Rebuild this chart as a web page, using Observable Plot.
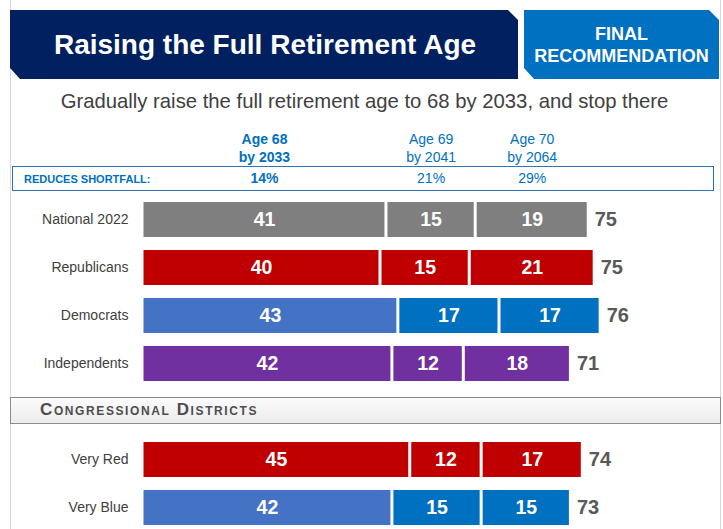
<!DOCTYPE html>
<html><head><meta charset="utf-8">
<script src="https://cdn.jsdelivr.net/npm/d3@7"></script>
<script src="https://cdn.jsdelivr.net/npm/@observablehq/plot@0.6"></script>
<style>
body{margin:0;background:#fff;font-family:"Liberation Sans",Arial,sans-serif;}
#wrap{position:relative;width:723px;height:529px;overflow:hidden;background:#fff;}
.abs{position:absolute;}
#frame{left:10px;top:0;width:709px;height:529px;border-left:1px solid #d9d9d9;border-right:1px solid #d9d9d9;}
#navy{left:10px;top:10px;width:508px;height:69px;background:#002060;clip-path:polygon(0 0,calc(100% - 10px) 0,100% 10px,100% 100%,10px 100%,0 calc(100% - 11px));color:#fff;font-weight:bold;font-size:28px;display:flex;align-items:center;justify-content:center;padding-left:2px;box-sizing:border-box;}
#final{left:524px;top:10px;width:195px;height:69px;background:#0070c0;clip-path:polygon(0 0,calc(100% - 10px) 0,100% 10px,100% 100%,10px 100%,0 calc(100% - 11px));color:#fff;font-weight:bold;font-size:18px;line-height:22px;display:flex;align-items:center;justify-content:center;text-align:center;}
#sub{left:0;top:90px;width:729px;text-align:center;font-size:20.3px;color:#404040;}
#short{left:12px;top:166px;width:700px;height:23px;border:1px solid #2e75b6;}
#shortlab{left:24px;top:173px;font-size:11px;font-weight:bold;color:#0070c0;}
#cong{left:10px;top:397px;width:709px;height:25px;border:1px solid #8c8c8c;background:linear-gradient(#fbfbfb,#ececec);}
#conglab{left:40px;top:400px;font-size:17px;font-weight:bold;font-variant:small-caps;color:#4d4d4d;letter-spacing:1.6px;}
#chart{left:0;top:120px;}
</style></head>
<body>
<div id="wrap">
  <div id="frame" class="abs"></div>
  <div id="navy" class="abs"></div>
  <div id="final" class="abs"></div>
  <div id="sub" class="abs"></div>
  <div id="short" class="abs"></div>
  <div id="shortlab" class="abs"></div>
  <div id="cong" class="abs"></div>
  <div id="conglab" class="abs"></div>
  <div id="chart" class="abs"></div>
</div>
<script>
const title = "Raising the Full Retirement Age";
const badge = ["FINAL", "RECOMMENDATION"];
const subtitle = "Gradually raise the full retirement age to 68 by 2033, and stop there";
const shortfallLabel = "REDUCES SHORTFALL:";
const sectionLabel = "Congressional Districts";

const groups = ["National 2022", "Republicans", "Democrats", "Independents", "Very Red", "Very Blue"];
const age68 = [41, 40, 43, 42, 45, 42];
const age69 = [15, 15, 17, 12, 12, 15];
const age70 = [19, 21, 17, 18, 17, 15];
const totals = [75, 75, 76, 71, 74, 73];
const columnHeads = ["Age 68\nby 2033", "Age 69\nby 2041", "Age 70\nby 2064"];
const shortfall = ["14%", "21%", "29%"];

// styles
const palette = {
  "National 2022": ["#7f7f7f", "#7f7f7f", "#7f7f7f"],
  "Republicans": ["#c00000", "#c00000", "#c00000"],
  "Democrats": ["#4472c4", "#0070c0", "#0070c0"],
  "Independents": ["#7030a0", "#7030a0", "#7030a0"],
  "Very Red": ["#c00000", "#c00000", "#c00000"],
  "Very Blue": ["#4472c4", "#0070c0", "#0070c0"]
};
const GAP = " ";
const rowDomain = [...groups.slice(0, 4), GAP, ...groups.slice(4)];

document.getElementById("navy").textContent = title;
document.getElementById("final").innerHTML = badge.join("<br>");
document.getElementById("sub").textContent = subtitle;
document.getElementById("shortlab").textContent = shortfallLabel;
document.getElementById("conglab").textContent = sectionLabel;

const series = [age68, age69, age70];
const rows = groups.flatMap((g, i) => series.map((s, k) => ({group: g, seg: k, value: s[i], fill: palette[g][k]})));
// total labels sit just past the end of each stacked bar
const totalRows = groups.map((g, i) => ({group: g, total: totals[i], end: age68[i] + age69[i] + age70[i]}));

// column header positions: centers of the National segments
const nat = series.map(s => s[0]);
const heads = columnHeads.map((t, k) => ({
  label: t, pct: shortfall[k],
  x: nat.slice(0, k).reduce((a, b) => a + b, 0) + nat[k] / 2
}));

const chart = Plot.plot({
  width: 723, height: 409, margin: 0,
  style: {background: "transparent", fontFamily: "'Liberation Sans',Arial,sans-serif"},
  x: {domain: [0, 100], range: [142, 737], axis: null},
  y: {domain: rowDomain, range: [69.5, 418.5], padding: 0.27, axis: null},
  color: {type: "identity"},
  marks: [
    Plot.barX(rows, Plot.stackX({x: "value", y: "group", z: "seg", fill: "fill", insetLeft: 1.5, insetRight: 1.5})),
    Plot.text(rows, Plot.stackX({x: "value", y: "group", z: "seg", text: d => String(d.value), fill: "white", fontWeight: "bold", fontSize: 19.5})),
    Plot.text(totalRows, {x: "end", y: "group", text: d => String(d.total), textAnchor: "start", dx: 6, fill: "#595959", fontWeight: "bold", fontSize: 20}),
    Plot.text(groups, {x: () => 0, y: d => d, text: d => d, textAnchor: "end", dx: -14, fill: "#404040", fontSize: 14}),
    Plot.text(heads.slice(0, 1), {x: "x", text: "label", frameAnchor: "top", lineAnchor: "middle", dy: 27, lineHeight: 1.28, fill: "#0070c0", fontWeight: "bold", fontSize: 14}),
    Plot.text(heads.slice(1), {x: "x", text: "label", frameAnchor: "top", lineAnchor: "middle", dy: 27, lineHeight: 1.28, fill: "#0070c0", fontSize: 14}),
    Plot.text(heads.slice(0, 1), {x: "x", text: "pct", frameAnchor: "top", lineAnchor: "middle", dy: 58, fill: "#0070c0", fontWeight: "bold", fontSize: 14}),
    Plot.text(heads.slice(1), {x: "x", text: "pct", frameAnchor: "top", lineAnchor: "middle", dy: 58, fill: "#0070c0", fontSize: 14})
  ]
});
document.getElementById("chart").appendChild(chart);
</script>
</body></html>
